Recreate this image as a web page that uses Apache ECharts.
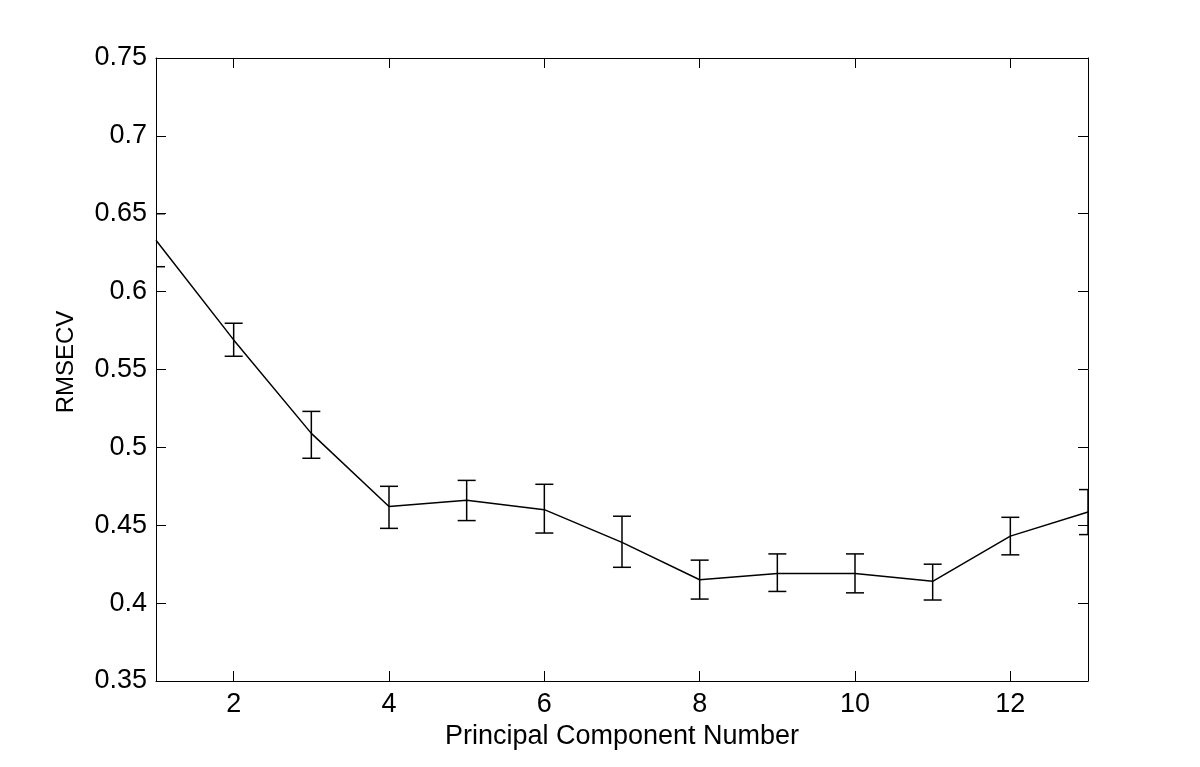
<!DOCTYPE html>
<html>
<head>
<meta charset="utf-8">
<script src="https://cdn.jsdelivr.net/npm/echarts@6/dist/echarts.min.js"></script>
<style>
html,body{margin:0;padding:0;background:#fff;}
#chart{width:1200px;height:767px;}
</style>
</head>
<body>
<div id="chart"></div>
<script>
const components = [1, 2, 3, 4, 5, 6, 7, 8, 9, 10, 11, 12, 13];
const rmsecv = [0.633, 0.569, 0.509, 0.462, 0.466, 0.460, 0.439, 0.415, 0.419, 0.419, 0.414, 0.443, 0.4585];
const lowerBound = [0.616, 0.5585, 0.493, 0.448, 0.453, 0.445, 0.423, 0.4026, 0.4075, 0.4066, 0.402, 0.431, 0.444];
const upperBound = [0.650, 0.5797, 0.5231, 0.475, 0.4788, 0.4763, 0.4558, 0.4276, 0.4316, 0.4316, 0.425, 0.4551, 0.4729];
const xTicks = [2, 4, 6, 8, 10, 12];
const xLabel = 'Principal Component Number';
const yLabel = 'RMSECV';

const font = 'Liberation Sans, Arial, Helvetica, sans-serif';
const chart = echarts.init(document.getElementById('chart'));

const lineData = components.map((c, i) => [c, rmsecv[i]]);
const errData = components.map((c, i) => [c, lowerBound[i], upperBound[i]]);

const axisLine = {show: true, lineStyle: {color: '#000', width: 1}};
const tickStyle = {inside: true, length: 10, lineStyle: {color: '#000', width: 1}};

chart.setOption({
  animation: false,
  backgroundColor: '#fff',
  grid: {left: 156, right: 112, top: 58, bottom: 86, containLabel: false},
  xAxis: [{
    type: 'value', min: 1, max: 13, position: 'bottom',
    name: xLabel, nameLocation: 'middle', nameGap: 42,
    nameTextStyle: {color: '#000', fontSize: 27, fontFamily: font},
    axisLine: axisLine,
    axisTick: Object.assign({show: true, customValues: xTicks}, tickStyle),
    axisLabel: {show: true, customValues: xTicks, color: '#000', fontSize: 27, fontFamily: font, margin: 10},
    splitLine: {show: false}
  }, {
    type: 'value', min: 1, max: 13, position: 'top',
    axisLine: axisLine,
    axisTick: Object.assign({show: true, customValues: xTicks}, tickStyle),
    axisLabel: {show: false},
    splitLine: {show: false}
  }],
  yAxis: [{
    type: 'value', min: 0.35, max: 0.75, interval: 0.05, position: 'left',
    name: yLabel, nameLocation: 'middle', nameGap: 78, nameRotate: 90,
    nameTextStyle: {color: '#000', fontSize: 24, fontFamily: font, padding: [0, 0, 0, 15]},
    axisLine: axisLine,
    axisTick: Object.assign({show: true}, tickStyle),
    axisLabel: {color: '#000', fontSize: 27, fontFamily: font, margin: 9,
      formatter: v => String(parseFloat(v.toFixed(2)))},
    splitLine: {show: false}
  }, {
    type: 'value', min: 0.35, max: 0.75, interval: 0.05, position: 'right',
    axisLine: axisLine,
    axisTick: Object.assign({show: true}, tickStyle),
    axisLabel: {show: false},
    splitLine: {show: false}
  }],
  series: [{
    type: 'line', data: lineData, xAxisIndex: 0, yAxisIndex: 0,
    showSymbol: false, symbol: 'none',
    lineStyle: {color: '#000', width: 1.5}, clip: true
  }, {
    type: 'custom', xAxisIndex: 0, yAxisIndex: 0, clip: true,
    data: errData,
    encode: {x: 0, y: [1, 2]},
    renderItem: function (params, api) {
      const x = api.value(0);
      const lo = api.coord([x, api.value(1)]);
      const hi = api.coord([x, api.value(2)]);
      const hw = 9;
      const style = {stroke: '#000', lineWidth: 1.5, fill: null};
      return {
        type: 'group',
        children: [
          {type: 'line', shape: {x1: lo[0], y1: lo[1], x2: hi[0], y2: hi[1]}, style: style},
          {type: 'line', shape: {x1: lo[0] - hw, y1: lo[1], x2: lo[0] + hw, y2: lo[1]}, style: style},
          {type: 'line', shape: {x1: hi[0] - hw, y1: hi[1], x2: hi[0] + hw, y2: hi[1]}, style: style}
        ]
      };
    }
  }]
});
</script>
</body>
</html>
